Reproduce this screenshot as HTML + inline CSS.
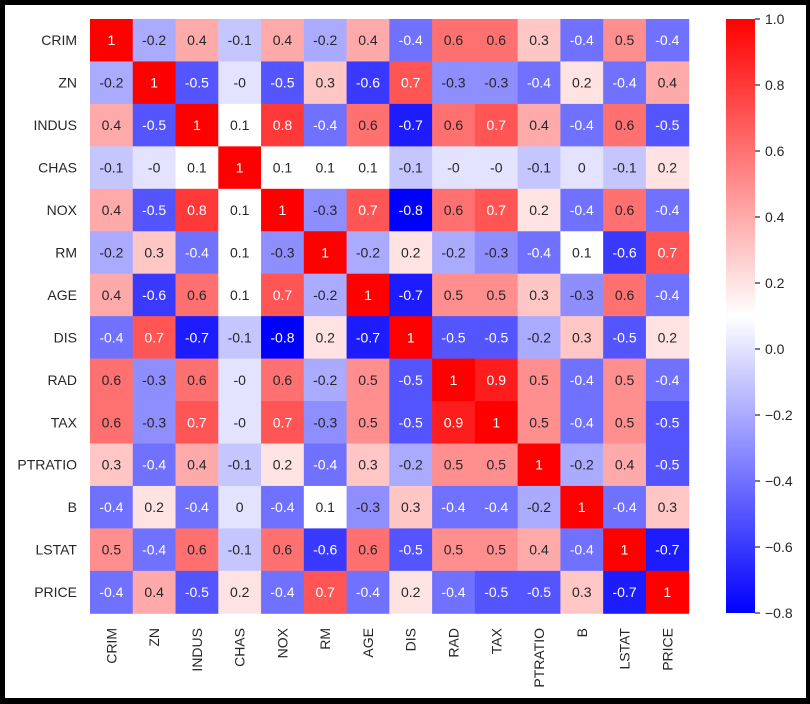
<!DOCTYPE html>
<html><head><meta charset="utf-8"><style>
html,body{margin:0;padding:0;background:#000;}
svg{display:block;font-family:"Liberation Sans",sans-serif;}
</style></head><body>
<svg id="chart" width="810" height="704">
<rect x="5" y="5" width="801" height="693" fill="#fff"/>
<defs><linearGradient id="cbg" x1="0" y1="1" x2="0" y2="0">
<stop offset="0" stop-color="#0000ff"/><stop offset="0.5" stop-color="#ffffff"/><stop offset="1" stop-color="#ff0000"/>
</linearGradient></defs>
<g id="cells"></g><g id="ylabels"></g><g id="xlabels"></g>
<rect x="726" y="19" width="29" height="594" fill="url(#cbg)"/>
<g id="cbticks"></g>
</svg>
<script>
const categories = ["CRIM","ZN","INDUS","CHAS","NOX","RM","AGE","DIS","RAD","TAX","PTRATIO","B","LSTAT","PRICE"];
const values = [
[1,-0.2,0.4,-0.1,0.4,-0.2,0.4,-0.4,0.6,0.6,0.3,-0.4,0.5,-0.4],
[-0.2,1,-0.5,-0,-0.5,0.3,-0.6,0.7,-0.3,-0.3,-0.4,0.2,-0.4,0.4],
[0.4,-0.5,1,0.1,0.8,-0.4,0.6,-0.7,0.6,0.7,0.4,-0.4,0.6,-0.5],
[-0.1,-0,0.1,1,0.1,0.1,0.1,-0.1,-0,-0,-0.1,0,-0.1,0.2],
[0.4,-0.5,0.8,0.1,1,-0.3,0.7,-0.8,0.6,0.7,0.2,-0.4,0.6,-0.4],
[-0.2,0.3,-0.4,0.1,-0.3,1,-0.2,0.2,-0.2,-0.3,-0.4,0.1,-0.6,0.7],
[0.4,-0.6,0.6,0.1,0.7,-0.2,1,-0.7,0.5,0.5,0.3,-0.3,0.6,-0.4],
[-0.4,0.7,-0.7,-0.1,-0.8,0.2,-0.7,1,-0.5,-0.5,-0.2,0.3,-0.5,0.2],
[0.6,-0.3,0.6,-0,0.6,-0.2,0.5,-0.5,1,0.9,0.5,-0.4,0.5,-0.4],
[0.6,-0.3,0.7,-0,0.7,-0.3,0.5,-0.5,0.9,1,0.5,-0.4,0.5,-0.5],
[0.3,-0.4,0.4,-0.1,0.2,-0.4,0.3,-0.2,0.5,0.5,1,-0.2,0.4,-0.5],
[-0.4,0.2,-0.4,0,-0.4,0.1,-0.3,0.3,-0.4,-0.4,-0.2,1,-0.4,0.3],
[0.5,-0.4,0.6,-0.1,0.6,-0.6,0.6,-0.5,0.5,0.5,0.4,-0.4,1,-0.7],
[-0.4,0.4,-0.5,0.2,-0.4,0.7,-0.4,0.2,-0.4,-0.5,-0.5,0.3,-0.7,1]
];
const cbTicks = [1.0,0.8,0.6,0.4,0.2,0.0,-0.2,-0.4,-0.6,-0.8];
const vmin=-0.8, vmax=1.0;
const X0=90,Y0=19,X1=688.7,Y1=613.3;
const n=categories.length, cw=(X1-X0)/n, ch=(Y1-Y0)/n;
const xs=i=>X0+i*cw, ys=i=>Y0+i*ch;
const cbY=v=>19+(vmax-v)/(vmax-vmin)*594;
const NS="http://www.w3.org/2000/svg";
function color(v){
  let t=(v-vmin)/(vmax-vmin); t=Math.max(0,Math.min(1,t));
  let r,g,b;
  if(t<0.5){const k=t/0.5;r=g=Math.round(255*k);b=255;}
  else{const k=(t-0.5)/0.5;r=255;g=b=Math.round(255*(1-k));}
  return [r,g,b];
}
function mk(tag,attrs,parent){const e=document.createElementNS(NS,tag);for(const k in attrs)e.setAttribute(k,attrs[k]);parent.appendChild(e);return e;}
const cells=document.getElementById('cells');
values.forEach((row,i)=>row.forEach((v,j)=>{
  const [r,g,b]=color(v);
  const rc=mk('rect',{x:xs(j),y:ys(i),width:cw+0.5,height:ch+0.5,fill:`rgb(${r},${g},${b})`},cells);
  
  
  const lum=0.2126*r+0.7152*g+0.0722*b;
  const t=mk('text',{x:xs(j)+cw/2,y:ys(i)+ch/2+5,'text-anchor':'middle','font-size':'14',fill:lum<140?'#fff':'#262626'},cells);
  t.textContent=(Object.is(v,-0)?'-0':String(v));
  
  
}));
const yl=document.getElementById('ylabels'), xl=document.getElementById('xlabels');
categories.forEach((c,i)=>{
  const t=mk('text',{x:77,y:ys(i)+ch/2+5,'text-anchor':'end','font-size':'14',fill:'#262626'},yl);
  t.textContent=c;
  
  
  const cx=xs(i)+cw/2+5;
  const u=mk('text',{x:cx,y:628,'text-anchor':'end','font-size':'14',fill:'#262626',transform:`rotate(-90 ${cx} 628)`},xl);
  u.textContent=c;
  
  
});
const cbt=document.getElementById('cbticks');
cbTicks.forEach(v=>{
  const y=cbY(v);
  const l=mk('line',{x1:755,x2:760,y1:y,y2:y,stroke:'#262626','stroke-width':1.2},cbt);
  
  
  const t=mk('text',{x:765,y:y+5,'font-size':'14',fill:'#262626'},cbt);
  t.textContent=(v<0?'\u2212':'')+Math.abs(v).toFixed(1);
  
  
});
</script>
</body></html>
